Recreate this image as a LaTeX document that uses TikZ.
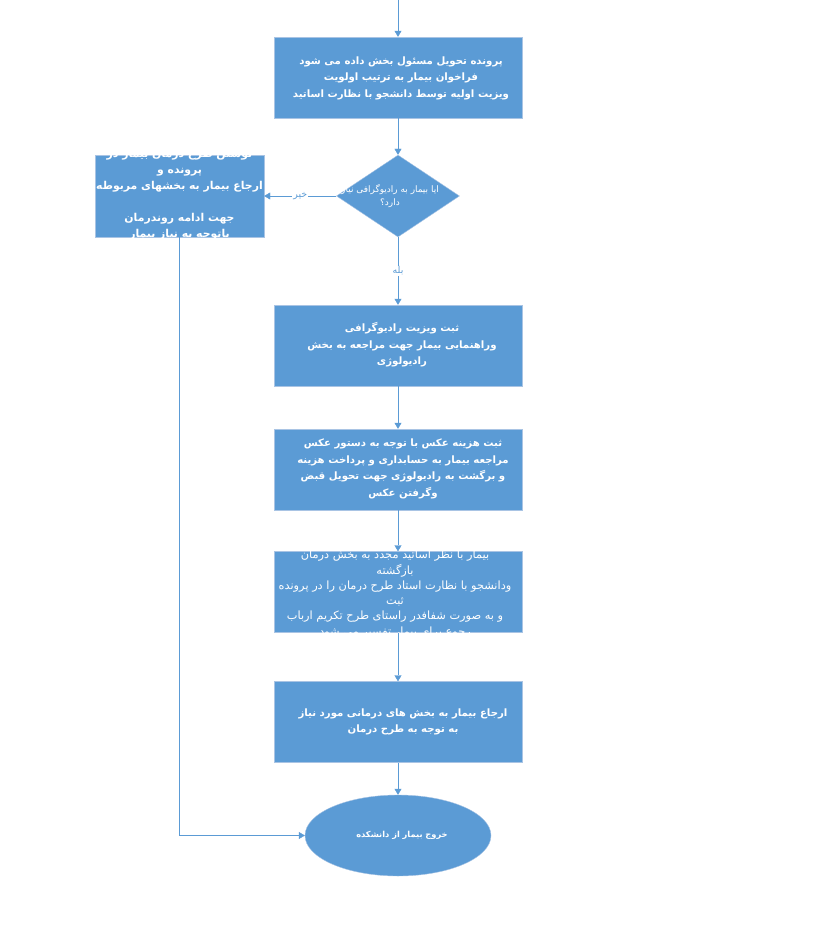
\documentclass[tikz,border=0pt]{standalone}
\usepackage{fontspec}
\newfontfamily\arabicfont[Script=Arabic]{DejaVu Sans}
\TeXXeTstate=1
\usetikzlibrary{arrows.meta,shapes.geometric}
\definecolor{boxblue}{HTML}{5B9BD5}
\definecolor{boxedge}{HTML}{A9C4E4}
\newcommand{\rl}[1]{\beginR #1\endR}

\begin{document}
\begin{tikzpicture}
[
x=1bp, y=-1bp,
Box/.style={rectangle,draw=boxedge,fill=boxblue, thin, minimum width=248bp, minimum height=81bp, inner sep=0pt},
SideBox/.style={rectangle,draw=boxedge,fill=boxblue, thin, minimum width=169bp, minimum height=82bp, inner sep=0pt},
Decision/.style={diamond,draw=boxedge,fill=boxblue, thin, minimum width=123bp, minimum height=82bp, inner sep=0pt},
Exit/.style={ellipse,draw=boxedge,fill=boxblue, thin, minimum width=186bp, minimum height=81bp, inner sep=0pt},
BoxText/.style={text=white, align=center, inner sep=0pt, font=\arabicfont\bfseries\fontsize{10.2}{16.5}\selectfont},
PlainText/.style={text=white, align=center, inner sep=0pt, font=\arabicfont\fontsize{11.4}{15.3}\selectfont},
SmallText/.style={text=white, align=center, inner sep=0pt, font=\arabicfont\fontsize{9}{12.5}\selectfont},
Flow/.style={draw=boxblue, -{Triangle[width=7bp,length=6bp]}},
Label/.style={fill=white, inner sep=1pt, text=boxblue, font=\arabicfont\fontsize{9.5}{10}\selectfont},
]

\useasboundingbox (0,0) rectangle (839,925);

% shapes
\coordinate (start) at (398,0);
\node[Box] (visit) at (398,77.5) {};
\node[Decision] (ask) at (398,196) {};
\node[SideBox] (plan) at (179.5,196) {};
\node[Box] (radio) at (398,345.5) {};
\node[Box] (pay) at (398,469.5) {};
\node[Box] (back) at (398,592) {};
\node[Box] (refer) at (398,722) {};
\node[Exit] (exit) at (398,835.5) {};

% texts
\node[BoxText] (visit text) at (401,78) {\rl{پرونده تحویل مسئول بخش داده می شود}\\ \rl{فراخوان بیمار به ترتیب اولویت}\\ \rl{ویزیت اولیه توسط دانشجو با نظارت اساتید}};
\node[SmallText] (ask text) at (390,196) {\rl{ایا بیمار به رادیوگرافی نیاز}\\ \rl{دارد؟}};
\node[BoxText, font=\arabicfont\bfseries\fontsize{10.9}{16}\selectfont] (plan text) at (179.5,194.5) {\rl{نوشتن طرح درمان بیمار در}\\ \rl{پرونده و}\\ \rl{ارجاع بیمار به بخشهای مربوطه}\\ \\ \rl{جهت ادامه روندرمان}\\ \rl{باتوجه به نیاز بیمار}};
\node[BoxText] (radio text) at (402,345) {\rl{ثبت ویزیت رادیوگرافی}\\ \rl{وراهنمایی بیمار جهت مراجعه به بخش}\\ \rl{رادیولوژی}};
\node[BoxText] (pay text) at (403,469) {\rl{ثبت هزینه عکس با توجه به دستور عکس}\\ \rl{مراجعه بیمار به حسابداری و پرداخت هزینه}\\ \rl{و برگشت به رادیولوژی جهت تحویل قبض}\\ \rl{وگرفتن عکس}};
\node[PlainText] (back text) at (395,594) {\rl{بیمار با نظر اساتید مجدد به بخش درمان}\\ \rl{بازگشته}\\ \rl{ودانشجو با نظارت استاد طرح درمان را در پرونده}\\ \rl{ثبت}\\ \rl{و به صورت شفافدر راستای طرح تکریم ارباب}\\ \rl{رجوع برای بیمار تفسیر می شود}};
\node[BoxText] (refer text) at (403,722) {\rl{ارجاع بیمار به بخش های درمانی مورد نیاز}\\ \rl{به توجه به طرح درمان}};
\node[SmallText, font=\arabicfont\bfseries\fontsize{8.3}{9}\selectfont] (exit text) at (402,835) {\rl{خروج بیمار از دانشکده}};

% connectors
\draw[Flow] (start) -- (visit);
\draw[Flow] (visit) -- (ask);
\draw[Flow] (ask.west) -- node[Label] (no) {\rl{خیر}} (plan.east);
\draw[Flow] (ask.south) -- node[Label] (yes) {\rl{بله}} (radio.north);
\draw[Flow] (radio) -- (pay);
\draw[Flow] (pay) -- (back);
\draw[Flow] (back) -- (refer);
\draw[Flow] (refer) -- (exit);
\draw[Flow] (plan.south) |- (exit.west);

\end{tikzpicture}
\end{document}
